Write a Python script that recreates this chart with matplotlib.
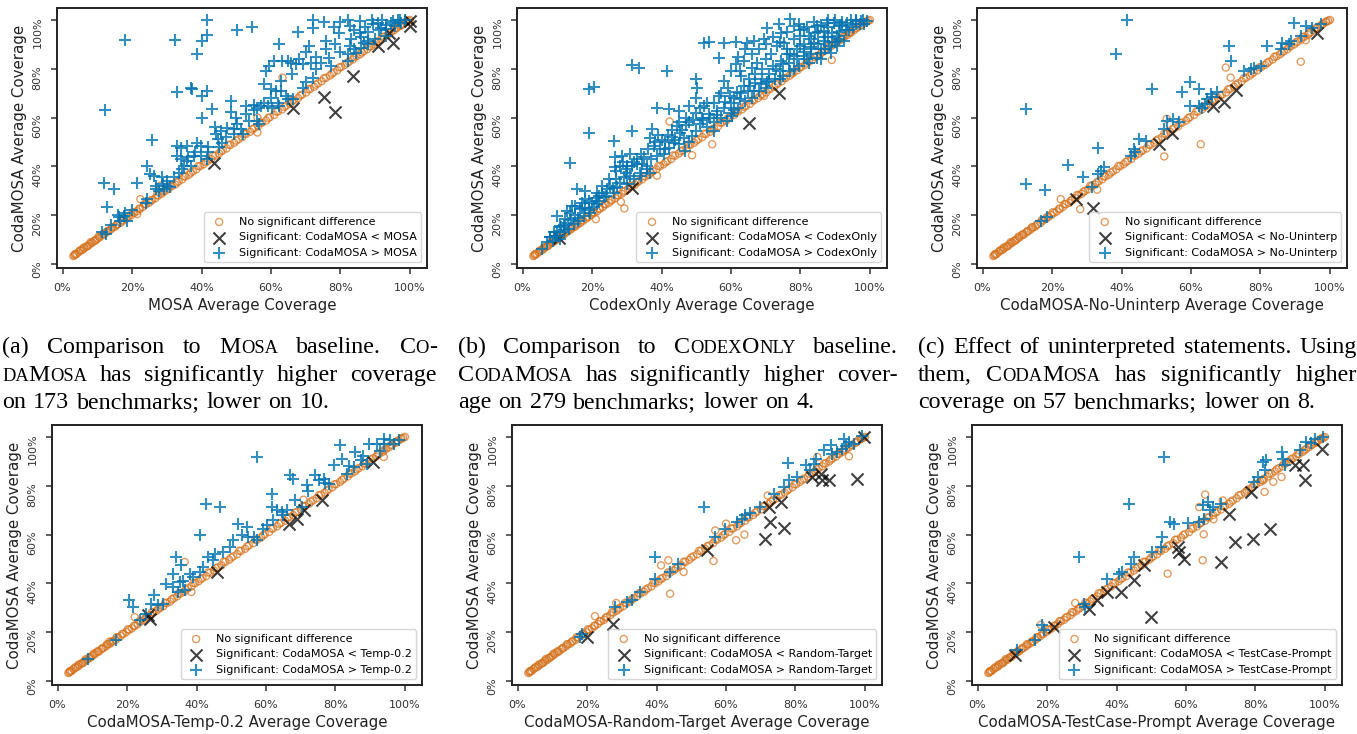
import numpy as np
import matplotlib
matplotlib.use('Agg')
import matplotlib.pyplot as plt
from matplotlib.ticker import PercentFormatter

# benchmarks where CodaMOSA and the other config are basically tied (shared diagonal band)
diag_x = [3.1, 3.4, 3.7, 4.1, 4.6, 5.2, 5.8, 6.3, 6.9, 7.4,
          7.9, 8.5, 9.0, 9.6, 10.1, 10.7, 11.3, 11.9, 12.6, 13.2,
          13.9, 14.5, 15.2, 15.9, 16.7, 17.4, 18.2, 19.0, 19.8, 20.6,
          21.4, 22.3, 23.1, 24.0, 24.9, 25.8, 26.7, 27.6, 28.5, 29.5,
          30.4, 31.4, 32.4, 33.4, 34.4, 35.4, 36.4, 37.5, 38.5, 39.6,
          40.6, 41.7, 42.8, 43.9, 45.0, 46.1, 47.2, 48.3, 49.4, 50.6,
          51.7, 52.8, 54.0, 55.1, 56.3, 57.4, 58.6, 59.7, 60.9, 62.0,
          63.2, 64.3, 65.5, 66.6, 67.8, 68.9, 70.1, 71.2, 72.4, 73.5,
          74.6, 75.8, 76.9, 78.0, 79.1, 80.2, 81.3, 82.4, 83.5, 84.6,
          85.6, 86.7, 87.7, 88.7, 89.7, 90.7, 91.7, 92.6, 93.6, 94.5,
          95.4, 96.3, 97.2, 98.0, 98.8, 99.5, 100.0]
diag_y = [3.3, 3.6, 4.0, 4.2, 4.9, 5.5, 5.9, 6.6, 7.2, 7.5,
          8.3, 8.7, 9.4, 9.8, 10.5, 11.0, 11.8, 12.1, 13.0, 13.6,
          14.2, 15.0, 15.4, 16.3, 16.9, 17.8, 18.5, 19.4, 20.1, 21.0,
          21.6, 22.7, 23.4, 24.5, 25.1, 26.3, 27.0, 28.1, 28.8, 30.0,
          30.7, 31.9, 32.6, 33.9, 34.7, 35.9, 36.6, 38.0, 38.8, 40.1,
          40.9, 42.2, 43.0, 44.4, 45.3, 46.6, 47.4, 48.8, 49.7, 51.1,
          52.0, 53.3, 54.2, 55.6, 56.5, 57.9, 58.8, 60.2, 61.1, 62.5,
          63.4, 64.8, 65.7, 67.1, 68.0, 69.4, 70.3, 71.7, 72.6, 74.0,
          74.9, 76.3, 77.2, 78.5, 79.4, 80.7, 81.6, 82.9, 83.8, 85.1,
          85.9, 87.2, 88.0, 89.2, 90.0, 91.2, 92.0, 93.1, 93.9, 95.0,
          95.8, 96.8, 97.6, 98.5, 99.1, 99.7, 100.0]
diag2_x = [3.6, 5.0, 6.0, 7.1, 8.1, 9.3, 10.4, 11.6, 12.9, 14.2,
           15.6, 17.0, 18.6, 20.2, 22.0, 23.6, 25.4, 27.2, 29.0, 31.0,
           32.9, 34.9, 36.9, 39.1, 41.2, 43.3, 45.6, 47.8, 50.0, 52.3,
           54.6, 56.9, 59.2, 61.5, 63.8, 66.1, 68.4, 70.7, 72.9, 75.2,
           77.5, 79.7, 81.9, 84.0, 86.1, 88.2, 90.2, 92.2, 94.0, 95.9,
           97.6, 99.0]
diag2_y = [4.1, 5.6, 6.7, 7.4, 9.0, 9.7, 11.3, 12.3, 13.5, 15.1,
           16.2, 18.0, 19.3, 21.2, 22.6, 24.6, 26.0, 28.3, 29.6, 32.1,
           33.5, 36.0, 37.5, 40.2, 41.8, 44.5, 46.2, 48.9, 50.6, 53.4,
           55.2, 57.9, 59.8, 62.5, 64.4, 67.0, 69.0, 71.6, 73.5, 76.1,
           78.0, 80.6, 82.4, 84.9, 86.7, 89.1, 90.8, 93.1, 94.6, 96.6,
           97.9, 99.4]

# (a) MOSA
mosa_tie = [(63.3, 76.4), (22.4, 26.6), (21.5, 20.5), (56.1, 53.9), (56.1, 60.0), (28.2, 32.1)]
mosa_lo = [(43.6, 41.6), (66.2, 64.1), (75.2, 68.6), (78.4, 62.3), (83.5, 77.1),
           (90.8, 89.4), (95.1, 90.7), (94.1, 94.8), (99.9, 99.5), (99.9, 97.5)]
mosa_hi = [(41.7, 100), (18.1, 91.8), (32.5, 91.8), (38.8, 86.2), (40.2, 91.4), (41.7, 93.7),
           (50.3, 95.9), (54.4, 97.3), (62.2, 90.3), (67.7, 95.1), (72, 100), (72, 96.9),
           (75.2, 99.2), (71, 89.4), (75.8, 91.4), (75.8, 88), (79.7, 94.8), (82.1, 100),
           (82.6, 97.5), (85.5, 99.5), (85.5, 94.8), (89.3, 98.2), (91.7, 96.9), (94.6, 98.9),
           (96.5, 100), (97.5, 98.9), (98.5, 100), (95.6, 97.5), (90.8, 98.9), (93.2, 96.2),
           (82.6, 89.4), (84, 88), (82.1, 86), (86, 88.7), (84.5, 86.6), (86.9, 90.7),
           (87.9, 91.4), (82.1, 83.2), (76.8, 84.6), (77.3, 81.2), (74.4, 82.5), (72.9, 79.8),
           (71.5, 82.5), (69.1, 81.9), (67.2, 81.9), (65.7, 82.5), (63.3, 83.2), (60.9, 83.2),
           (59.5, 81.2), (58.5, 79.1), (58, 73.7), (61.4, 70.9), (60, 71.6), (64.3, 68.9),
           (64.8, 67.5), (66.2, 67.5), (69.1, 72.3), (70.1, 74.4), (72, 76.4), (62.4, 64.8),
           (60.4, 64.1), (59, 64.8), (57.1, 64.8), (56.1, 64.1), (52.7, 64.8), (52.7, 61.4),
           (53.7, 58.7), (56.1, 58.7), (56.6, 57.3), (48.4, 66.8), (48.4, 62.1), (50.3, 57.3),
           (51.3, 55.3), (49.4, 55.3), (47.4, 55.9), (45.5, 54.6), (49.4, 53.2), (51.8, 53.2),
           (43.1, 63.4), (40.2, 60), (40.2, 68.9), (41.7, 70.9), (36.9, 72.3), (37.3, 71.6),
           (33, 70.5), (44.1, 53.2), (44.6, 51.2), (46, 49.8), (38.8, 49.8), (39.8, 48.4),
           (35.9, 48.4), (33, 48.4), (34, 47.7), (33, 44.3), (37.8, 44.3), (39.8, 44.3),
           (41.7, 43), (25.8, 50.9), (24.3, 40.2), (25.3, 36.8), (26.3, 36.2), (28.7, 35.5),
           (21.5, 33.4), (11.8, 33.2), (14.7, 30.7), (12.8, 23.2), (26.8, 30.7), (27.7, 30),
           (29.2, 30.7), (30.1, 32.1), (32.1, 35.5), (33.5, 37.5), (34.5, 38.9), (34.9, 40.2),
           (36.9, 40.2), (35.9, 42.3), (24.3, 26.6), (23.9, 25.2), (18.1, 21.1), (17.6, 19.8),
           (16.2, 19.1), (16.6, 17.7), (18.5, 17.7), (11.3, 13), (12.6, 12.3), (12.3, 63.2),
           (93, 93.5), (90, 92), (88, 95), (80, 87), (78.5, 90), (65, 83), (63, 71), (62, 66),
           (55, 63), (45, 48), (42, 46), (30, 34), (31, 31.5),
           (84, 96), (87, 97), (89, 100), (92, 100), (95, 99.5), (97, 100), (93, 98), (91, 96),
           (88, 90), (86, 93), (83, 92), (80, 99), (78, 97), (70, 87), (73, 85), (68, 84),
           (66, 78), (63, 75), (60, 68), (58, 66), (55, 65), (50, 60), (47, 52), (44, 56),
           (42, 48), (38, 46), (36, 44), (34, 43), (29, 33), (27, 32), (20, 22), (16, 20),
           (14, 16)]

# (b) CodexOnly
codex_tie = [(42.3, 58.4), (54.6, 49.1), (48.8, 44.6), (38.7, 36.2), (28.3, 25.5), (29.3, 22.8),
             (21.1, 18.4), (23.3, 26.6), (89, 83.6), (92, 92.4), (69.5, 68.9), (94.4, 94.8)]
codex_lo = [(10.4, 10.5), (31.5, 31.0), (65.1, 57.7), (73.8, 70.0)]
codex_hi = [(31.5, 81.4), (33.4, 80.5), (41.6, 79.1), (19, 71.6), (20.5, 72.7), (19, 53.9),
            (13.7, 41.6), (31.5, 54.6), (26.2, 50.5), (52.2, 90.7), (53.6, 91), (57.9, 90.7),
            (61.3, 91), (64.6, 90.7), (66.6, 91.4), (69.5, 92.1), (70.4, 96.9), (73.8, 98.2),
            (74.3, 94.8), (56.5, 84.6), (77.1, 100.3), (79.5, 98.2), (38.7, 64.1), (42.1, 63.4),
            (44.9, 62.8), (47.9, 64.8), (49.8, 68.2), (49.8, 75.7), (50.3, 72.3), (52.2, 64.8),
            (53.6, 61.4), (56, 62.8), (57.9, 64.1), (56.5, 68.9), (58.4, 66.2), (59.8, 68.9),
            (61.3, 81.9), (62.7, 79.1), (63.7, 83.2), (66.1, 80.5), (67.5, 82.5), (69, 79.8),
            (65.1, 75.7), (63.7, 73), (61.8, 70.3), (62.7, 67.5), (65.6, 73), (66.6, 70.9),
            (68.5, 73.7), (70.4, 74.4), (72.8, 75.7), (71.4, 86), (73.3, 89.4), (75.2, 90.7),
            (76.2, 88), (78.1, 85.3), (74.3, 83.2), (76.6, 82.5), (79.5, 81.2), (81, 85.3),
            (82.9, 88), (80, 89.4), (82.4, 93.4), (84.3, 94.8), (84.8, 97.5), (86.7, 95.5),
            (86.7, 91.4), (88.2, 89.4), (85.8, 86.6), (89.1, 94.8), (89.6, 98.9), (87.7, 98.9),
            (90.6, 93.4), (91.5, 97.5), (93.5, 98.9), (94.4, 100), (95.9, 98.2), (97.3, 99.5),
            (98.3, 98.2), (92.5, 91.4), (83.9, 90.7), (80, 93.4), (78.1, 97.5), (81, 96.2),
            (90.6, 89.4), (88.7, 86.6), (84.8, 84.6), (82.4, 82.5), (36.8, 51.8), (37.3, 55.3),
            (37.8, 48.4), (39.7, 47.1), (40.6, 45), (38.7, 44.3), (42.1, 47.7), (43.5, 49.8),
            (44.5, 56.6), (45.4, 53.9), (46.4, 51.8), (48.8, 52.5), (49.8, 54.6), (51.2, 57.3),
            (51.7, 60), (55, 58), (55, 54.6), (58.9, 58.7), (60.3, 60.7), (46.9, 46.4),
            (32.9, 43), (34.4, 40.9), (31.5, 40.2), (29.9, 37.5), (28.1, 40.2), (26.7, 39.6),
            (26.7, 43.7), (28.6, 44.3), (31, 45), (29.1, 35.5), (32, 34.8), (33.9, 37.5),
            (35.8, 40.2), (35.8, 38.9), (36.8, 37.5), (15.7, 30.7), (18.1, 30), (21.4, 29.3),
            (23.3, 27.3), (25.3, 32.1), (26.2, 29.3), (27.2, 31.4), (28.1, 33.4), (24.3, 30.7),
            (9.9, 19.8), (12.3, 18.4), (13.7, 21.1), (15.2, 23.9), (16.6, 22.5), (17.6, 19.8),
            (19.5, 21.1), (20.5, 23.2), (21.4, 24.6), (16.1, 17.7), (14.7, 16.4), (13.3, 14.3),
            (11.8, 13), (9.4, 11.6), (8, 10.9), (8.9, 9.5), (10.9, 10.2), (5.6, 6.1),
            (18.1, 26.6), (17.1, 25.2), (14.2, 23.9), (12.8, 21.8), (10.9, 15.7),
            (67, 78), (70, 84), (72, 81), (85, 90), (88, 93), (91, 95), (93, 96), (95, 97),
            (96, 99.5), (87, 88), (83, 86), (86, 84), (79, 84), (77, 79), (75, 77), (63, 77),
            (60, 66), (54, 60), (50, 62), (47, 57), (43, 52), (41, 50), (39, 53), (35, 44),
            (33, 41), (30, 39), (27, 35), (24, 28), (22, 26), (20, 25), (18, 23), (16, 19),
            (14, 18), (12, 16), (10, 13), (8, 11), (7, 9), (19, 22), (22, 28), (30, 33),
            (34, 36), (45, 49), (48, 50), (53, 56), (57, 60), (61, 63), (64, 67), (68, 71),
            (71, 75), (74, 79), (76, 86), (81, 90), (83, 92), (88, 97), (92, 99), (98, 100),
            (58, 75), (60, 79), (62, 85), (64, 88), (66, 86), (68, 88), (70, 90), (72, 93),
            (74, 91), (76, 95), (78, 92), (80, 96), (82, 97), (84, 99), (86, 98), (88, 100),
            (90, 100), (92, 98), (94, 96), (96, 100), (99, 99.5), (97, 98.5), (91, 92), (89, 91),
            (87, 93), (85, 95), (83, 89), (81, 87), (79, 88), (77, 86), (75, 82), (73, 80),
            (71, 78), (69, 76), (67, 74), (65, 71), (63, 70), (61, 68), (59, 72), (57, 70),
            (55, 66), (53, 66), (51, 64), (49, 59), (47, 60), (45, 58), (43, 55), (42, 53),
            (40, 51), (38, 50), (36, 47), (34, 45), (32, 42), (30, 40), (29, 42), (27, 38),
            (25, 35), (23, 32), (21, 27), (19, 26), (17, 23), (15, 20), (13, 17), (11, 15),
            (9, 13), (10, 11.5), (12, 14), (23, 29), (26, 31), (31, 36), (37, 43), (41, 47),
            (44, 51), (46, 55), (48, 58), (52, 59), (56, 61), (60, 62), (62, 64), (66, 68),
            (70, 72), (74, 76), (78, 80), (82, 84), (86, 88), (90, 91)]

# (c) No-Uninterp
uninterp_tie = [(62.8, 49.1), (52.3, 44.1), (91.6, 82.9), (70, 80.5), (28.1, 22.5), (22.5, 26.6),
                (93, 91.7), (71.4, 76.4), (53, 59.5), (33, 30.5)]
uninterp_lo = [(26.8, 26.6), (31.9, 22.8), (50.8, 49.1), (54.4, 53.6), (66.2, 64.8),
               (69.5, 66.4), (72.9, 71.4), (96.4, 94.8)]
uninterp_hi = [(41.7, 100), (38.4, 86.2), (48.9, 71.6), (12.5, 63.4), (12.5, 32.7), (17.9, 30.3),
               (24.6, 40.5), (28.8, 35.7), (33.1, 47.5), (31.6, 31.4), (33.1, 36.8), (35, 39.6),
               (16.8, 17.7), (18.5, 19.1), (42.7, 44.3), (43.6, 47.1), (45.1, 51.2), (47, 50.5),
               (52.3, 55.3), (53.2, 58.7), (54.7, 59.3), (56.6, 58), (57.3, 70.5), (59.7, 74.4),
               (59.7, 64.8), (62.3, 71.6), (62.3, 64.8), (63.3, 64.1), (64.7, 67.5), (65.7, 69.6),
               (67.6, 70.3), (71, 89.4), (71.4, 83.2), (75.3, 79.1), (77.2, 79.8), (78.1, 80.5),
               (80.1, 81.2), (82, 89.4), (85.8, 88), (88.2, 90), (89.6, 98.6), (91.6, 93.4),
               (93, 97.5), (94.9, 96.9), (97.3, 98.2), (86.3, 90.7), (88.7, 91.4), (66, 68.5),
               (64, 65.5), (34, 38), (44, 46)]

# (d) Temp-0.2
temp_tie = [(36.6, 48.8), (22.2, 26.2), (38.5, 36.5), (70.8, 74.3), (93.9, 91.8), (15, 16.2)]
temp_lo = [(26.5, 25.5), (26, 26.9), (45.8, 44.7), (66.5, 64.5), (68.9, 66.5), (70.8, 69.9),
           (76.1, 74), (90.8, 89.8)]
temp_hi = [(57.3, 91.8), (42.7, 72.4), (46.9, 71.3), (40.9, 59.7), (81.2, 96.6), (67, 84.3),
           (67.9, 82.9), (61.7, 76.8), (61.7, 71.3), (63.1, 69.9), (64.5, 69.3), (66, 70.2),
           (68.4, 74), (70.3, 71.3), (71.8, 80.2), (74.2, 84.3), (75.2, 82.2), (76.6, 82.9),
           (78, 80.9), (79.5, 88.4), (81.9, 91.1), (83.3, 85), (85.7, 93.9), (87.2, 90.4),
           (89.1, 89.1), (89.6, 97.3), (92, 97.3), (93.9, 99.3), (95.8, 98.6), (96.8, 97.3),
           (98.3, 98.6), (92.9, 94.4), (85.3, 87.7), (62.1, 65.8), (60.2, 63.8), (59.2, 62.4),
           (52, 64.5), (54.4, 63.1), (54.9, 59), (56.4, 59), (57.3, 57.7), (50.6, 57.7),
           (49.6, 54.9), (47.7, 52.9), (45.3, 52.2), (43.4, 50.8), (44.8, 49.5), (41.9, 46.7),
           (40.9, 44.7), (39, 42.6), (38.1, 44), (34.2, 50.8), (35.6, 47.4), (33.2, 44),
           (31.3, 39.9), (33.2, 38.5), (35.1, 40.6), (36.6, 37.2), (34.7, 36.5), (20.7, 33.1),
           (21.7, 30.3), (27.9, 35.1), (27, 31.7), (28.9, 31), (30.3, 31.7), (23.6, 24.9),
           (25.5, 27.6), (16.9, 16.9), (8.7, 9.2), (65, 68), (72, 78), (77, 81), (84, 88),
           (88, 92), (94, 97), (53, 60), (36, 41)]

# (e) Random-Target
random_tie = [(43.9, 35.8), (43.4, 49.5), (41.3, 47.4), (56.4, 49.2), (62.9, 57.7), (65.3, 60),
              (47.8, 44.7), (86.3, 91.8), (95.4, 92.1), (22.3, 26.6), (28.4, 32), (56.9, 61.7),
              (72, 76), (60, 64.5)]
random_lo = [(19.9, 18), (27.4, 23.5), (54.5, 53.6), (71.3, 58.3), (72.8, 65.2), (76.8, 62.8),
             (72.3, 71.3), (75.7, 73.4), (84.8, 83.6), (87.2, 85), (89.6, 82.2), (87.7, 82.2),
             (97.8, 82.9), (99.7, 100)]
random_hi = [(53.8, 71.3), (39.6, 50.8), (77.8, 89.5), (18.5, 19.4), (18, 18), (28.1, 30.3),
             (31.4, 32.4), (32.9, 33.1), (35.3, 36.5), (39.6, 41.9), (43.9, 44.7), (46.3, 48.1),
             (56.9, 59), (59.8, 62.4), (63.2, 65.2), (65.6, 67.9), (69.9, 71.3), (73.7, 76.8),
             (76.6, 79.5), (78.1, 82.2), (80.5, 83.6), (82.9, 88.4), (85.3, 89.1), (85.8, 91.1),
             (88.2, 94.5), (90.1, 96.6), (90.6, 93.2), (93.9, 99.3), (95.4, 98), (93.5, 95.2),
             (96.8, 97.3), (99.2, 100.3), (84.3, 86.3), (64.5, 66.5), (67, 69), (92, 94),
             (94.5, 96.5)]

# (f) TestCase-Prompt
prompt_tie = [(65.1, 60.1), (64.8, 49.5), (54.7, 44), (65.5, 76.4), (63.8, 71.3), (67.9, 66.3),
              (82.6, 77.5), (85.1, 81.6), (87.5, 83.6), (70.6, 74), (28.1, 32), (18.2, 23.1),
              (82.2, 82.2)]
prompt_lo = [(10.8, 10.5), (21.9, 22.1), (32, 29.6), (34.5, 33.1), (37.3, 36.5), (41.2, 36.5),
             (45, 41.3), (47.9, 47.4), (49.9, 26.2), (57.6, 54.9), (58.1, 52.9), (59.5, 50.1),
             (70.1, 48.8), (72.5, 68.6), (74, 57), (79.3, 58.3), (78.8, 77.5), (84.1, 62.4),
             (91.3, 88.4), (93.7, 88.4), (94.2, 82.2), (99, 95.2)]
prompt_hi = [(53.7, 91.8), (43.6, 72.4), (29.1, 50.8), (56.6, 64.5), (60.5, 64.8), (53.2, 59),
             (52.7, 54.9), (50.3, 52.9), (45, 50.8), (44.1, 48.1), (40.7, 44), (41.7, 44.7),
             (37.3, 41.9), (30.6, 31.7), (31, 30.3), (18.5, 22.8), (19, 20.8), (16.6, 16.7),
             (11.3, 12.6), (64.8, 72), (66.2, 73.4), (67.7, 71.3), (66.8, 69.9), (65.3, 66.5),
             (63.8, 65.2), (70.1, 72.7), (79.7, 81.6), (80.7, 83.6), (82.6, 86.3), (83.1, 90.4),
             (82.2, 89.8), (87.5, 93.9), (87.9, 91.1), (88.4, 88.4), (92.8, 94.5), (94.6, 98),
             (97.1, 99.3), (99.5, 100), (55.5, 65), (96, 97.5)]

panels = [
    ('MOSA', mosa_tie, mosa_lo, mosa_hi),
    ('CodexOnly', codex_tie, codex_lo, codex_hi),
    ('CodaMOSA-No-Uninterp', uninterp_tie, uninterp_lo, uninterp_hi),
    ('CodaMOSA-Temp-0.2', temp_tie, temp_lo, temp_hi),
    ('CodaMOSA-Random-Target', random_tie, random_lo, random_hi),
    ('CodaMOSA-TestCase-Prompt', prompt_tie, prompt_lo, prompt_hi),
]
short = ['MOSA', 'CodexOnly', 'No-Uninterp', 'Temp-0.2', 'Random-Target', 'TestCase-Prompt']

captions = [
    (['(a) Comparison to M{OSA} baseline. C{O}-',
      '{DA}M{OSA} has significantly higher coverage',
      'on 173 benchmarks; lower on 10.'], 2, 437),
    (['(b) Comparison to C{ODEX}O{NLY} baseline.',
      'C{ODA}M{OSA} has significantly higher cover-',
      'age on 279 benchmarks; lower on 4.'], 458, 898),
    (['(c) Effect of uninterpreted statements. Using',
      'them, C{ODA}M{OSA} has significantly higher',
      'coverage on 57 benchmarks; lower on 8.'], 918, 1357),
]

W, H = 1357, 734
fig = plt.figure(figsize=(W / 100, H / 100), dpi=100)

orange = '#d5731f'
blue = '#0173b2'

lefts = [57, 517, 977, 52, 512, 972]
tops = [8, 8, 8, 425, 425, 425]
for i, (name, tie, lo, hi) in enumerate(panels):
    ax = fig.add_axes([lefts[i] / W, 1 - (tops[i] + 260) / H, 370 / W, 260 / H])
    tx = diag_x + diag2_x + [p[0] for p in tie]
    ty = diag_y + diag2_y + [p[1] for p in tie]
    lo = np.array(lo)
    hi = np.array(hi)
    ax.scatter(tx, ty, s=26, facecolors='none', edgecolors=orange, alpha=0.7,
               linewidths=1.0, label='No significant difference')
    ax.scatter(lo[:, 0], lo[:, 1], s=75, marker='x', color='black', alpha=0.75,
               linewidths=1.5, label=f'Significant: CodaMOSA < {short[i]}')
    ax.scatter(hi[:, 0], hi[:, 1], s=75, marker='+', color=blue, alpha=0.8,
               linewidths=1.5, label=f'Significant: CodaMOSA > {short[i]}')
    ax.set_xlim(-1.6, 104.9)
    ax.set_ylim(-1.6, 104.9)
    ax.set_xticks([0, 20, 40, 60, 80, 100])
    ax.set_yticks([0, 20, 40, 60, 80, 100])
    ax.xaxis.set_major_formatter(PercentFormatter(decimals=0))
    ax.yaxis.set_major_formatter(PercentFormatter(decimals=0))
    ax.tick_params(labelsize=8, colors='#333333', length=4.5, width=1.1, pad=6)
    ax.tick_params(axis='y', labelrotation=90)
    for sp in ax.spines.values():
        sp.set_color('#222222')
        sp.set_linewidth(1.4)
    ax.set_xlabel(f'{name} Average Coverage', fontsize=10.8, color='#222222')
    ax.set_ylabel('CodaMOSA Average Coverage', fontsize=10.8, color='#222222')
    ax.legend(loc='lower right', fontsize=8)


def parse_word(word):
    parts, buf, small = [], '', False
    for ch in word:
        if ch in '{}':
            if buf:
                parts.append((buf, small))
            buf = ''
            small = ch == '{'
        else:
            buf += ch
    if buf:
        parts.append((buf, small))
    return parts


# justified serif captions with fake small caps
renderer = fig.canvas.get_renderer()
cap_size = 17.3
baselines = [353, 381, 408]
for lines, x0, x1 in captions:
    for n, (line, base) in enumerate(zip(lines, baselines)):
        words = []
        for w in line.split():
            pieces = []
            for s, small in parse_word(w):
                t = fig.text(0, 1 - base / H, s, fontsize=cap_size * 0.77 if small else cap_size,
                             family='Liberation Serif', va='baseline', color='black')
                pieces.append((t, t.get_window_extent(renderer).width))
            words.append(pieces)
        widths = [sum(p[1] for p in w) for w in words]
        if n < len(lines) - 1:
            gap = (x1 - x0 - sum(widths)) / (len(words) - 1)
        else:
            gap = cap_size * 0.3 * 100 / 72
        x = x0
        for pieces, wd in zip(words, widths):
            xx = x
            for t, pw in pieces:
                t.set_x(xx / W)
                xx += pw
            x += wd + gap

fig.savefig('out.png', dpi=100)
